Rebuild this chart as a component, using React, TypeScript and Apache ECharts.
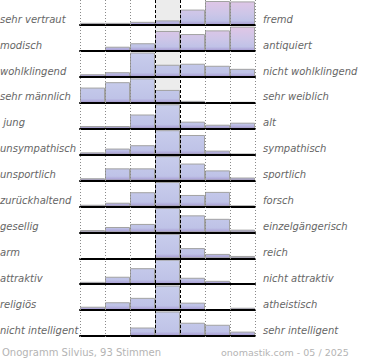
import React, { useEffect, useRef } from "react";
import * as echarts from "echarts";

const leftLabels = [
  "sehr vertraut", "modisch", "wohlklingend", "sehr männlich", " jung",
  "unsympathisch", "unsportlich", "zurückhaltend", "gesellig", "arm",
  "attraktiv", "religiös", "nicht intelligent",
];
const rightLabels = [
  "fremd", "antiquiert", "nicht wohlklingend", "sehr weiblich", "alt",
  "sympathisch", "sportlich", "forsch", "einzelgängerisch", "reich",
  "nicht attraktiv", "atheistisch", "sehr intelligent",
];
const scaleSteps = ["1", "2", "3", "4", "5", "6", "7"];
// bar heights per row (scale max 24 = full row)
const row01 = [2.3, 2.3, 3.3, 4.7, 15.3, 23.7, 23.3];
const row02 = [0, 4.3, 7.7, 19.7, 16.7, 20.3, 24];
const row03 = [2.7, 4.7, 24, 12, 13, 11, 8];
const row04 = [15, 20.3, 24, 12.7, 2, 0.4, 1];
const row05 = [2.7, 2.7, 14, 24, 7, 4, 6];
const row06 = [2.3, 6, 9.3, 24, 19.3, 4, 1];
const row07 = [2.3, 12, 12, 24, 16.7, 10, 3];
const row08 = [1.7, 3.7, 14, 24, 11.3, 14.3, 1];
const row09 = [2.3, 5.3, 8.3, 24, 16.7, 13.3, 2.7];
const row10 = [0, 0, 0, 24, 10, 4.3, 2.3];
const row11 = [2.3, 7.3, 15.7, 24, 6.3, 3.3, 0.7];
const row12 = [3.3, 7.7, 12, 24, 7.3, 1, 2.3];
const row13 = [0, 0, 8.3, 24, 13, 11, 4.3];
const rows = [row01, row02, row03, row04, row05, row06, row07, row08, row09, row10, row11, row12, row13];
// which bars use the pink shade: [row, column]
const pinkBars = [
  [0, 3], [0, 4], [0, 5], [0, 6],
  [1, 3], [1, 4], [1, 5], [1, 6],
];
const footerLeft = "Onogramm Silvius, 93 Stimmen";
const footerRight = "onomastik.com - 05 / 2025";

const GRID_LEFT = 80;
const GRID_W = 175;
const FIRST_BASE = 25.2;
const ROW_STEP = 25.9;
const ROW_H = 24.5;
const FONT = "DejaVu Sans, Verdana, sans-serif";

export default function App() {
  const ref = useRef<HTMLDivElement>(null);
  useEffect(() => {
    if (!ref.current) return;
    const chart = echarts.init(ref.current, null, { renderer: "svg" });
    const grids: any[] = [];
    const xAxes: any[] = [];
    const yAxes: any[] = [];
    const series: any[] = [];
    const graphics: any[] = [];
    const lastBase = FIRST_BASE + ROW_STEP * (rows.length - 1);

    graphics.push({
      type: "rect",
      z: -10,
      shape: { x: GRID_LEFT + 75, y: 0, width: 25, height: lastBase },
      style: { fill: "#ececec" },
    });

    rows.forEach((vals, i) => {
      const base = FIRST_BASE + ROW_STEP * i;
      const top = base - ROW_H;
      grids.push({ left: GRID_LEFT, width: GRID_W, top, height: ROW_H });
      xAxes.push({
        gridIndex: i,
        type: "category",
        data: scaleSteps,
        z: 5,
        axisLine: { show: true, lineStyle: { color: "#000", width: 2 } },
        axisTick: { show: false },
        axisLabel: { show: false },
        splitLine: { show: false },
      });
      yAxes.push({
        gridIndex: i,
        type: "value",
        min: 0,
        max: 24,
        show: false,
      });
      const blue = {
        type: "linear", x: 0, y: top, x2: 0, y2: base, global: true,
        colorStops: [
          { offset: 0, color: "#c8cdec" },
          { offset: 0.82, color: "#bfc3e7" },
          { offset: 1, color: "#a496d0" },
        ],
      };
      const pink = {
        type: "linear", x: 0, y: top, x2: 0, y2: base, global: true,
        colorStops: [
          { offset: 0, color: "#e0c6e6" },
          { offset: 0.5, color: "#cec6e8" },
          { offset: 0.82, color: "#c0c2e7" },
          { offset: 1, color: "#a496d0" },
        ],
      };
      series.push({
        type: "bar",
        xAxisIndex: i,
        yAxisIndex: i,
        barCategoryGap: "0%",
        barWidth: "100%",
        clip: true,
        z: 2,
        data: vals.map((v, c) => {
          const isPink = pinkBars.some(([r, cc]) => r === i && cc === c);
          return {
            value: v,
            itemStyle: {
              color: isPink ? pink : blue,
              borderColor: "#a2a2a2",
              borderWidth: v > 0 ? 1 : 0,
            },
          };
        }),
      });
      graphics.push({
        type: "text",
        left: 0,
        top: base - 11,
        style: {
          text: leftLabels[i],
          font: `italic 10px ${FONT}`,
          fill: "#666",
        },
      });
      graphics.push({
        type: "text",
        left: 263,
        top: base - 11,
        style: {
          text: rightLabels[i],
          font: `italic 10px ${FONT}`,
          fill: "#666",
        },
      });
    });

    for (let k = 0; k <= 7; k++) {
      const x = GRID_LEFT + k * 25 + 0.5;
      const middle = k === 3 || k === 4;
      graphics.push({
        type: "line",
        z: 50,
        shape: { x1: x, y1: 0, x2: x, y2: lastBase + 1 },
        style: middle
          ? { stroke: "#000", lineWidth: 1, lineDash: [3, 2] }
          : { stroke: "#8a8a8a", lineWidth: 1, lineDash: [1, 2] },
      });
    }

    graphics.push({
      type: "text",
      left: 2,
      top: 347,
      style: { text: footerLeft, font: `10px ${FONT}`, fill: "#b4b4b4" },
    });
    graphics.push({
      type: "text",
      left: 221,
      top: 347,
      style: { text: footerRight, font: `9.5px ${FONT}`, fill: "#b4b4b4" },
    });

    chart.setOption({
      animation: false,
      grid: grids,
      xAxis: xAxes,
      yAxis: yAxes,
      series,
      graphic: graphics,
    });
    return () => chart.dispose();
  }, []);
  return (
    <div
      ref={ref}
      style={{ position: "absolute", left: 0, top: 0, width: 370, height: 360, background: "#fff" }}
    />
  );
}
